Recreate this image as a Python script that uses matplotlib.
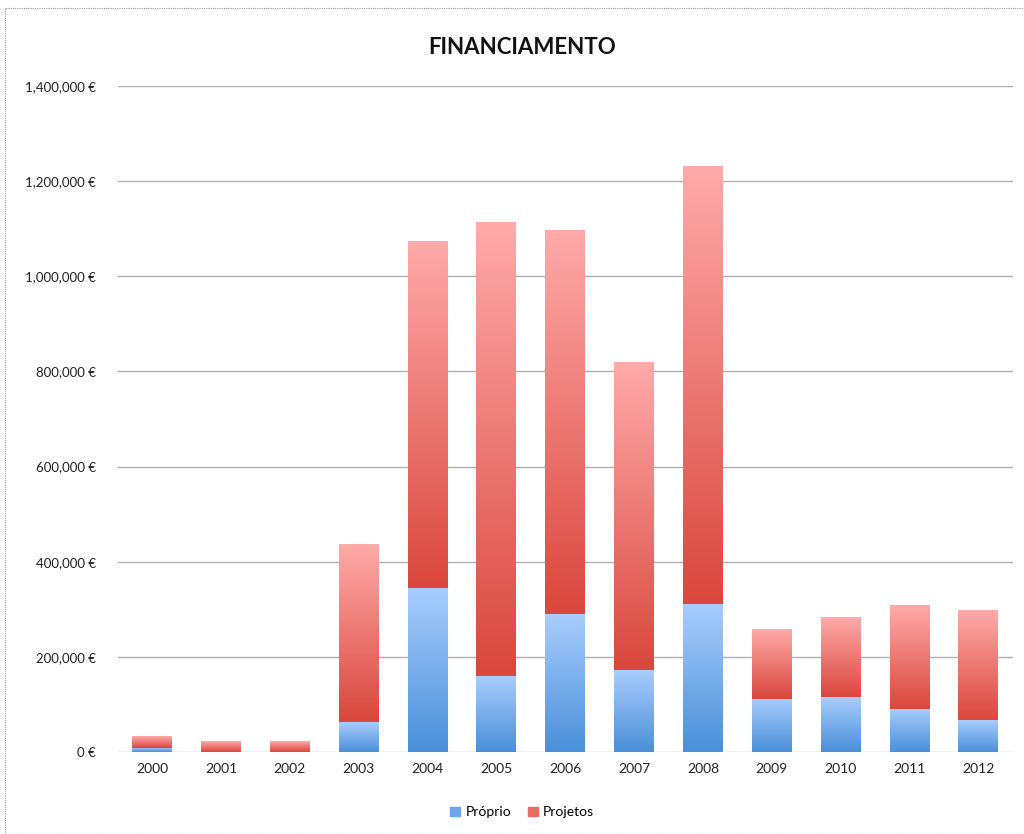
import matplotlib.pyplot as plt
import matplotlib.patches as mpatches
import matplotlib.ticker as mticker
import numpy as np

plt.rcParams['font.family'] = ['Lato', 'DejaVu Sans']

# Data
years = ['2000', '2001', '2002', '2003', '2004', '2005', '2006',
         '2007', '2008', '2009', '2010', '2011', '2012']
proprio = [9000, 0, 0, 63000, 345000, 159000, 290000,
           172000, 312000, 112000, 115000, 91000, 67000]
projetos = [25000, 23000, 23000, 374000, 729000, 953000, 807000,
            646000, 920000, 146000, 167000, 217000, 231000]

blue_dark, blue_light = '#4a8fd8', '#a9cdfd'
red_dark, red_light = '#d9473d', '#ffaaaa'


def gradient(c_bottom, c_top, n=256):
    b = np.array(plt.matplotlib.colors.to_rgb(c_bottom))
    t = np.array(plt.matplotlib.colors.to_rgb(c_top))
    s = np.linspace(0, 1, n)[:, None]
    return (b + (t - b) * s)[:, None, :]


fig = plt.figure(figsize=(10.24, 8.34), dpi=100)
ax = fig.add_axes([0.115, 0.0983, 0.874, 0.7986])

x = np.arange(len(years))
width = 0.58
g_blue = gradient(blue_dark, blue_light)
g_red = gradient(red_dark, red_light)

for xi, p, q in zip(x, proprio, projetos):
    segs = [(0, p, g_blue), (p, p + q, g_red)]
    for lo, hi, g in segs:
        if hi <= lo:
            continue
        ax.imshow(g, extent=[xi - width / 2, xi + width / 2, lo, hi],
                  origin='lower', aspect='auto', zorder=3, interpolation='bilinear')

ax.set_xlim(-0.5, len(years) - 0.5)
ax.set_ylim(0, 1400000)
ax.set_xticks(x)
ax.set_xticklabels(years, fontsize=10, color='#222222')
ax.yaxis.set_major_locator(mticker.MultipleLocator(200000))
ax.yaxis.set_major_formatter(mticker.FuncFormatter(lambda v, _: f'{int(v):,} €'))
ax.tick_params(axis='y', labelsize=9.5, colors='#222222', length=0, pad=16)
ax.tick_params(axis='x', length=0, pad=8)
ax.grid(axis='y', color='#b0b0b0', linewidth=1.0, zorder=0)
for s in ax.spines.values():
    s.set_visible(False)

fig.text(0.51, 0.943, 'FINANCIAMENTO', ha='center', va='center',
         fontsize=16, fontweight='bold', color='#111111')

handles = [mpatches.Patch(color='#6fa6ea', label='Próprio'),
           mpatches.Patch(color='#ee6b64', label='Projetos')]
fig.legend(handles=handles, loc='center', bbox_to_anchor=(0.51, 0.026), ncol=2,
           frameon=False, fontsize=10, handlelength=0.7, handleheight=0.7,
           handletextpad=0.4, columnspacing=1.2)

# dotted border of the chart area
fig.patches.append(mpatches.Rectangle((0.005, 0.0), 0.995, 0.99, transform=fig.transFigure,
                                      fill=False, edgecolor='#999999', linestyle=(0, (1, 1)),
                                      linewidth=0.8))

fig.savefig('out.png', dpi=100)
